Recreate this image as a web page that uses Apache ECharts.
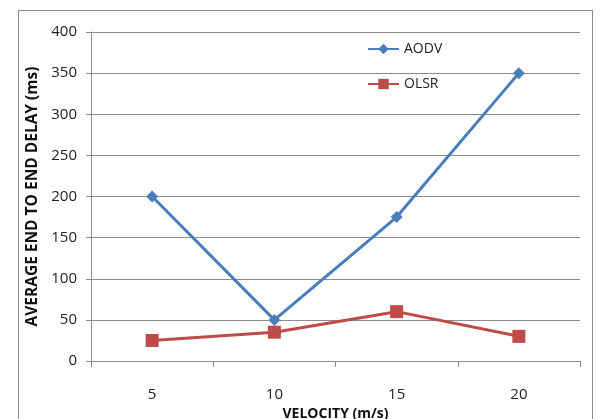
<!DOCTYPE html>
<html>
<head>
<meta charset="utf-8">
<script src="https://cdn.jsdelivr.net/npm/echarts@6/dist/echarts.min.js"></script>
<style>
html,body{margin:0;padding:0;background:#fff;}
#frame{position:absolute;left:18px;top:10px;width:575px;height:420px;border:1px solid #8c8c8c;box-sizing:border-box;}
#chart{position:absolute;left:0;top:0;width:601px;height:419px;}
</style>
</head>
<body>
<div id="frame"></div>
<div id="chart"></div>
<script>
// Velocity categories (m/s)
const velocities = ['5', '10', '15', '20'];
// Average end-to-end delay (ms) per routing protocol
const aodvDelay = [200, 50, 175, 350];
const olsrDelay = [25, 35, 60, 30];

const font = 'Open Sans, Noto Sans, sans-serif';
const chart = echarts.init(document.getElementById('chart'), null, {renderer: 'canvas'});
chart.setOption({
  animation: false,
  grid: {left: 91, right: 21, top: 32, bottom: 58, containLabel: false, outerBoundsMode: 'none'},
  legend: {
    orient: 'vertical',
    left: 362,
    top: 37,
    itemGap: 21,
    itemWidth: 31,
    itemHeight: 13,
    textStyle: {fontFamily: font, fontSize: 14, color: '#222'},
    data: ['AODV', 'OLSR']
  },
  xAxis: {
    type: 'category',
    data: velocities,
    boundaryGap: true,
    name: 'VELOCITY (m/s)',
    nameLocation: 'middle',
    nameGap: 43,
    nameTextStyle: {fontFamily: font, fontSize: 14, fontWeight: 'bold', color: '#111'},
    axisLine: {lineStyle: {color: '#8c8c8c'}},
    axisTick: {show: true, length: 6, lineStyle: {color: '#8c8c8c'}},
    axisLabel: {fontFamily: font, fontSize: 15, color: '#222', margin: 26}
  },
  yAxis: {
    type: 'value',
    min: 0,
    max: 400,
    interval: 50,
    name: 'AVERAGE END TO END DELAY (ms)',
    nameLocation: 'middle',
    nameGap: 50,
    nameTextStyle: {fontFamily: font, fontSize: 15.5, fontWeight: 'bold', color: '#111'},
    axisLine: {show: true, lineStyle: {color: '#8c8c8c'}},
    axisTick: {show: true, length: 5, lineStyle: {color: '#8c8c8c'}},
    axisLabel: {fontFamily: font, fontSize: 15, color: '#222', margin: 14},
    splitLine: {lineStyle: {color: '#8c8c8c', width: 1}}
  },
  series: [
    {
      name: 'AODV',
      type: 'line',
      data: aodvDelay,
      symbol: 'diamond',
      symbolSize: 12,
      itemStyle: {color: '#4a7ebb'},
      lineStyle: {color: '#4a7ebb', width: 3}
    },
    {
      name: 'OLSR',
      type: 'line',
      data: olsrDelay,
      symbol: 'rect',
      symbolSize: 13,
      itemStyle: {color: '#be4b48'},
      lineStyle: {color: '#be4b48', width: 3}
    }
  ]
});
</script>
</body>
</html>
